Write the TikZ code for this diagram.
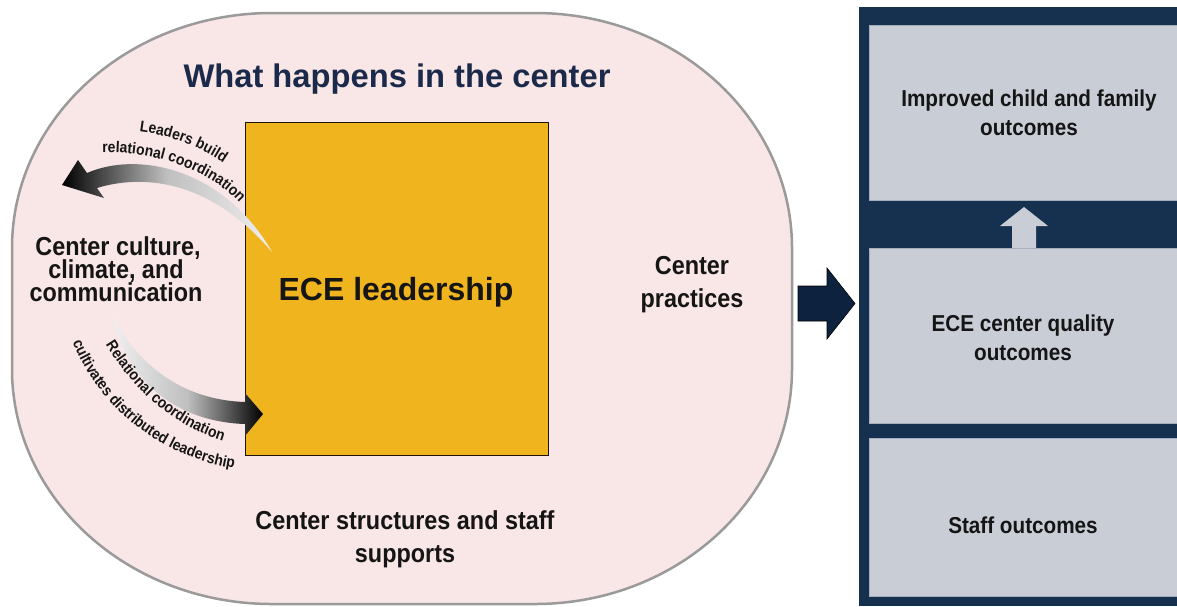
\documentclass[tikz,border=0pt]{standalone}
\usepackage{fontspec}
\setmainfont{Liberation Sans}
\newfontfamily\nar[FakeStretch=0.9]{Liberation Sans}
\usetikzlibrary{decorations.text}
\definecolor{pinkfill}{HTML}{F9E6E6}
\definecolor{pinkline}{HTML}{9A9A9A}
\definecolor{navy}{HTML}{16304F}
\definecolor{titlenavy}{HTML}{1B2A4A}
\definecolor{gold}{HTML}{F0B41E}
\definecolor{panelgray}{HTML}{C9CED6}
\definecolor{arrownavy}{HTML}{0D223F}
\definecolor{ink}{HTML}{151515}
\newcommand\ctfont{\nar\bfseries\fontsize{15.5}{18}\selectfont}
\begin{document}
\begin{tikzpicture}[x=1pt,y=-1pt,
  lbl/.style={font=\nar\bfseries\fontsize{26}{30}\selectfont, anchor=base, inner sep=0pt, text=ink},
  outlbl/.style={font=\nar\bfseries\fontsize{23}{28}\selectfont, anchor=base, inner sep=0pt, text=ink},
  panelbox/.style={fill=panelgray, draw=panelgray!80!navy, line width=0.6pt, inner sep=0pt},
  ctext/.style={decorate, decoration={text along path, text align=center, text color=ink, text={#1}}}]
\useasboundingbox (0,0) rectangle (1177,606);

% center area
\path[fill=pinkfill, draw=pinkline, line width=2.5pt]
  (272,13) -- (535,13) arc[start angle=-90,end angle=0,x radius=257,y radius=235]
  -- (792,369) arc[start angle=0,end angle=90,x radius=257,y radius=235]
  -- (272,604) arc[start angle=90,end angle=180,x radius=260,y radius=235]
  -- (12,248) arc[start angle=180,end angle=270,x radius=260,y radius=235] -- cycle;

\node[anchor=base, inner sep=0pt, text=titlenavy, font=\bfseries\fontsize{32.7}{38}\selectfont] (title) at (397,87) {What happens in the center};

% leadership box
\node[draw=black!85!brown, fill=gold, line width=0.8pt, minimum width=303pt, minimum height=333pt, inner sep=0pt] (lead) at (396.5,288.5) {};
\node[anchor=base, inner sep=0pt, text=ink, font=\bfseries\fontsize{32}{38}\selectfont] (leadtxt) at (396,300) {ECE leadership};

% curved arrows
\coordinate (upTail) at (272,252);
\coordinate (upTip) at (62,185);
\shade[left color=black, right color=gray!12, middle color=gray!50]
  (87,173) .. controls (140,150) and (225,170) .. (upTail)
  .. controls (215,185) and (150,172) .. (97,188) -- (104,198) -- (upTip) -- (78,160) -- cycle;

\coordinate (dnTail) at (112,316);
\coordinate (dnTip) at (263,414);
\shade[left color=gray!12, right color=black, middle color=gray!50]
  (dnTail) .. controls (140,368) and (185,400) .. (245,402) -- (245,393) -- (dnTip) -- (245,436) -- (245,424)
  .. controls (180,422) and (128,385) .. (dnTail) -- cycle;

% curved labels
\path[ctext={|\ctfont|Leaders build}] (134,131) .. controls (166,134) and (201,146) .. (228,166);
\path[ctext={|\ctfont|relational coordination}] (92,153) .. controls (150,149) and (215,169) .. (246,211);
\path[ctext={|\ctfont|Relational coordination}] (100,335) .. controls (129,387) and (173,429) .. (234,444);
\path[ctext={|\ctfont|cultivates distributed leadership}] (68,330) .. controls (93,403) and (158,461) .. (247,470);

% side labels
\node[lbl] (cc1) at (118,255) {Center culture,};
\node[lbl] (cc2) at (116,278) {climate, and};
\node[lbl] (cc3) at (116,301) {communication};
\node[lbl] (cp1) at (692,274) {Center};
\node[lbl] (cp2) at (692,307) {practices};
\node[lbl] (cs1) at (405,529) {Center structures and staff};
\node[lbl] (cs2) at (405,562) {supports};

% arrow to outcomes
\coordinate (ra1) at (798,286);
\coordinate (raTip) at (855,303.5);
\filldraw[fill=arrownavy, draw=black, line width=0.6pt]
  (ra1) -- (827,286) -- (827,268) -- (raTip) -- (827,339) -- (827,321) -- (798,321) -- cycle;

% outcomes panel
\fill[navy] (859,7) rectangle (1177,606);
\node[panelbox, minimum width=310pt, minimum height=175pt] (b1) at (1024,112.5) {};
\node[panelbox, minimum width=310pt, minimum height=175pt] (b2) at (1024,335.5) {};
\node[panelbox, minimum width=310pt, minimum height=158pt] (b3) at (1024,517) {};
\fill[panelgray] (1012,248) -- (1012,226) -- (1000,226) -- (1024,207) -- (1048,226) -- (1036,226) -- (1036,248) -- cycle;

\node[outlbl] (o1a) at (1029,106) {Improved child and family};
\node[outlbl] (o1b) at (1029,135) {outcomes};
\node[outlbl] (o2a) at (1023,331) {ECE center quality};
\node[outlbl] (o2b) at (1023,360) {outcomes};
\node[outlbl] (o3) at (1023,533) {Staff outcomes};
\end{tikzpicture}
\end{document}
